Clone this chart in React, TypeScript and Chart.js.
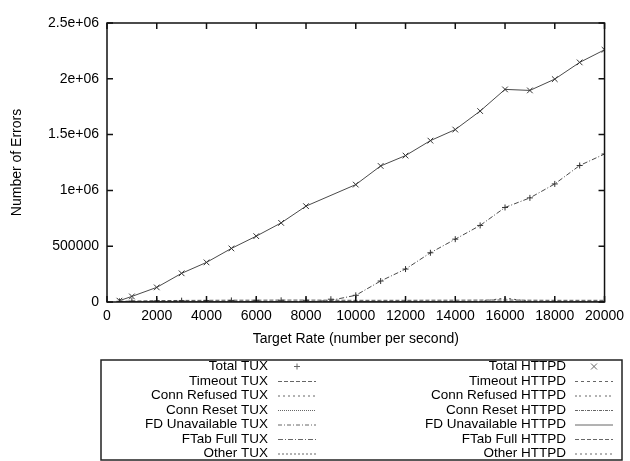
import React, { useEffect, useRef } from 'react';
import { Chart, registerables } from 'chart.js';

Chart.register(...registerables);

// ---- data ----
const tuxRates = [500, 1000, 2000, 3000, 4000, 5000, 6000, 7000, 8000, 9000, 10000, 11000, 12000, 13000, 14000, 15000, 16000, 17000, 18000, 19000, 20000];
const httpdRates = [500, 1000, 2000, 3000, 4000, 5000, 6000, 7000, 8000, 10000, 11000, 12000, 13000, 14000, 15000, 16000, 17000, 18000, 19000, 20000];

const totalTux = [6000, 8000, 10000, 12000, 13000, 14000, 15000, 15000, 15000, 25000, 60000, 188000, 295000, 441000, 563000, 686000, 847000, 933000, 1058000, 1223000, 1326000];
const timeoutTux = [6000, 8000, 12000, 14000, 15000, 16000, 16000, 17000, 17000, 16000, 15000, 15000, 15000, 16000, 16000, 17000, 18000, 16000, 15000, 15000, 15000];
const connRefusedTux = [0, 0, 0, 0, 0, 0, 0, 0, 0, 0, 0, 0, 0, 0, 0, 0, 0, 0, 0, 0, 0];
const connResetTux = [0, 0, 0, 0, 0, 0, 0, 0, 0, 0, 0, 0, 0, 0, 0, 0, 0, 0, 0, 0, 0];
const fdUnavailTux = [0, 0, 0, 0, 0, 0, 0, 0, 0, 0, 0, 0, 0, 0, 0, 0, 0, 0, 0, 0, 0];
const ftabFullTux = [0, 0, 0, 0, 0, 0, 0, 0, 0, 15000, 60000, 188000, 295000, 441000, 563000, 686000, 847000, 933000, 1058000, 1223000, 1326000];
const otherTux = [0, 0, 0, 0, 0, 0, 0, 0, 0, 0, 0, 0, 0, 0, 0, 0, 0, 0, 0, 0, 0];

const totalHttpd = [12000, 50000, 131000, 257000, 355000, 480000, 590000, 709000, 859000, 1052000, 1219000, 1312000, 1446000, 1545000, 1711000, 1905000, 1896000, 1997000, 2147000, 2260000];
const timeoutHttpd = [0, 2000, 3000, 3000, 3000, 3000, 3000, 3000, 3000, 3000, 3000, 3000, 3000, 3000, 3000, 3000, 3000, 3000, 3000, 3000];
const connRefusedHttpd = [0, 0, 0, 0, 0, 0, 0, 0, 0, 0, 0, 0, 0, 0, 0, 0, 0, 0, 0, 0];
const connResetHttpd = [0, 0, 0, 0, 0, 0, 0, 0, 0, 0, 0, 0, 0, 0, 0, 0, 0, 0, 0, 0];
const fdUnavailHttpd = [12000, 50000, 131000, 257000, 355000, 480000, 590000, 709000, 859000, 1052000, 1219000, 1312000, 1446000, 1545000, 1711000, 1905000, 1896000, 1997000, 2147000, 2260000];
const ftabFullHttpd = [0, 0, 0, 0, 0, 0, 0, 0, 0, 0, 0, 0, 0, 0, 0, 0, 0, 0, 0, 0];
const otherHttpd = [0, 0, 0, 0, 0, 0, 0, 0, 0, 0, 0, 0, 0, 0, 5000, 35000, 5000, 0, 0, 0];

const xTickLabels = ['0', '2000', '4000', '6000', '8000', '10000', '12000', '14000', '16000', '18000', '20000'];
const yTickLabels = ['0', '500000', '1e+06', '1.5e+06', '2e+06', '2.5e+06'];

const xTitle = 'Target Rate (number per second)';
const yTitle = 'Number of Errors';

const FONT = '"Liberation Sans", Arial, Helvetica, sans-serif';
const LINE = '#4a4a4a';

function pts(xs: number[], ys: number[]) {
  return xs.map((x, i) => ({ x, y: ys[i] }));
}

function lineDs(label: string, xs: number[], ys: number[], dash: number[]) {
  return {
    label,
    data: pts(xs, ys),
    borderColor: LINE,
    backgroundColor: LINE,
    borderWidth: 1,
    borderDash: dash,
    pointRadius: 0,
    showLine: true,
    tension: 0,
  };
}

function pointDs(label: string, xs: number[], ys: number[], style: string, r: number) {
  return {
    label,
    data: pts(xs, ys),
    borderColor: '#333',
    backgroundColor: '#333',
    borderWidth: 1,
    pointStyle: style,
    pointRadius: r,
    showLine: false,
  };
}

const frameTicksPlugin = {
  id: 'frameTicks',
  afterDatasetsDraw(chart: any) {
    const { ctx, chartArea, scales } = chart;
    const { left, right, top, bottom } = chartArea;
    ctx.save();
    ctx.strokeStyle = '#111';
    ctx.lineWidth = 1.5;
    ctx.setLineDash([]);
    ctx.strokeRect(left, top, right - left, bottom - top);
    const L = 6;
    ctx.beginPath();
    scales.x.ticks.forEach((t: any) => {
      const px = scales.x.getPixelForValue(t.value);
      ctx.moveTo(px, bottom);
      ctx.lineTo(px, bottom - L);
      ctx.moveTo(px, top);
      ctx.lineTo(px, top + L);
    });
    scales.y.ticks.forEach((t: any) => {
      const py = scales.y.getPixelForValue(t.value);
      ctx.moveTo(left, py);
      ctx.lineTo(left + L, py);
      ctx.moveTo(right, py);
      ctx.lineTo(right - L, py);
    });
    ctx.stroke();
    ctx.restore();
  },
};

const legendPlugin = {
  id: 'gpLegend',
  afterDraw(chart: any) {
    const ctx = chart.ctx;
    ctx.save();
    ctx.strokeStyle = '#222';
    ctx.lineWidth = 1.5;
    ctx.setLineDash([]);
    ctx.strokeRect(101, 360, 521, 100);
    ctx.font = `13.5px ${FONT}`;
    ctx.textAlign = 'right';
    ctx.textBaseline = 'middle';
    ctx.fillStyle = '#000';
    chart.data.datasets.forEach((ds: any, i: number) => {
      const col = i < 7 ? 0 : 1;
      const row = i % 7;
      const y = 366.5 + row * 14.5;
      const tx = col ? 566 : 268;
      ctx.fillText(ds.label, tx, y);
      const s0 = col ? 575 : 278;
      const s1 = col ? 613 : 316;
      ctx.strokeStyle = '#666';
      ctx.lineWidth = 1;
      if (ds.showLine === false) {
        const cx = (s0 + s1) / 2;
        const r = 3;
        ctx.setLineDash([]);
        ctx.beginPath();
        if (ds.pointStyle === 'cross') {
          ctx.moveTo(cx - r, y); ctx.lineTo(cx + r, y);
          ctx.moveTo(cx, y - r); ctx.lineTo(cx, y + r);
        } else {
          ctx.moveTo(cx - r, y - r); ctx.lineTo(cx + r, y + r);
          ctx.moveTo(cx - r, y + r); ctx.lineTo(cx + r, y - r);
        }
        ctx.stroke();
      } else {
        ctx.setLineDash(ds.borderDash || []);
        ctx.beginPath();
        ctx.moveTo(s0, y + 0.5);
        ctx.lineTo(s1, y + 0.5);
        ctx.stroke();
      }
    });
    ctx.restore();
  },
};

export default function App() {
  const ref = useRef<HTMLCanvasElement | null>(null);

  useEffect(() => {
    if (!ref.current) return;
    const datasets: any[] = [
      pointDs('Total TUX', tuxRates, totalTux, 'cross', 3),
      lineDs('Timeout TUX', tuxRates, timeoutTux, [4, 2]),
      lineDs('Conn Refused TUX', tuxRates, connRefusedTux, [2, 3]),
      lineDs('Conn Reset TUX', tuxRates, connResetTux, [1, 1]),
      lineDs('FD Unavailable TUX', tuxRates, fdUnavailTux, [4, 2, 1, 2]),
      lineDs('FTab Full TUX', tuxRates, ftabFullTux, [5, 2, 1, 2]),
      lineDs('Other TUX', tuxRates, otherTux, [2, 2]),
      pointDs('Total HTTPD', httpdRates, totalHttpd, 'crossRot', 4),
      lineDs('Timeout HTTPD', httpdRates, timeoutHttpd, [3, 3]),
      lineDs('Conn Refused HTTPD', httpdRates, connRefusedHttpd, [2, 2, 2, 4]),
      lineDs('Conn Reset HTTPD', httpdRates, connResetHttpd, [3, 1, 1, 1]),
      lineDs('FD Unavailable HTTPD', httpdRates, fdUnavailHttpd, []),
      lineDs('FTab Full HTTPD', httpdRates, ftabFullHttpd, [4, 2]),
      lineDs('Other HTTPD', httpdRates, otherHttpd, [2, 3]),
    ];
    const chart = new Chart(ref.current, {
      type: 'scatter',
      data: { datasets },
      options: {
        responsive: false,
        animation: false,
        events: [],
        layout: { padding: { left: 0, right: 23, top: 23, bottom: 113 } },
        plugins: {
          legend: { display: false },
          tooltip: { enabled: false },
        },
        scales: {
          x: {
            type: 'linear',
            min: 0,
            max: 20000,
            grid: { display: false, drawTicks: false },
            border: { display: false },
            ticks: {
              stepSize: 2000,
              padding: 6,
              color: '#000',
              font: { family: FONT, size: 14 },
              maxRotation: 0,
              autoSkip: false,
              callback: (_v: any, i: number) => xTickLabels[i],
            },
            title: {
              display: true,
              text: xTitle,
              color: '#000',
              font: { family: FONT, size: 14 },
              padding: { top: 0, bottom: 0 },
            },
            afterFit: (s: any) => { s.height = 46; },
          },
          y: {
            type: 'linear',
            min: 0,
            max: 2500000,
            grid: { display: false, drawTicks: false },
            border: { display: false },
            ticks: {
              stepSize: 500000,
              padding: 8,
              color: '#000',
              font: { family: FONT, size: 14 },
              autoSkip: false,
              callback: (_v: any, i: number) => yTickLabels[i],
            },
            title: {
              display: true,
              text: yTitle,
              color: '#000',
              font: { family: FONT, size: 14 },
              padding: { top: 9, bottom: 0 },
            },
            afterFit: (s: any) => { s.width = 107; },
          },
        },
      } as any,
      plugins: [frameTicksPlugin, legendPlugin],
    });
    return () => chart.destroy();
  }, []);

  return (
    <div style={{ position: 'absolute', left: 0, top: 0, width: 630, height: 461, background: '#fff' }}>
      <canvas ref={ref} width={630} height={461} style={{ display: 'block' }} />
    </div>
  );
}
